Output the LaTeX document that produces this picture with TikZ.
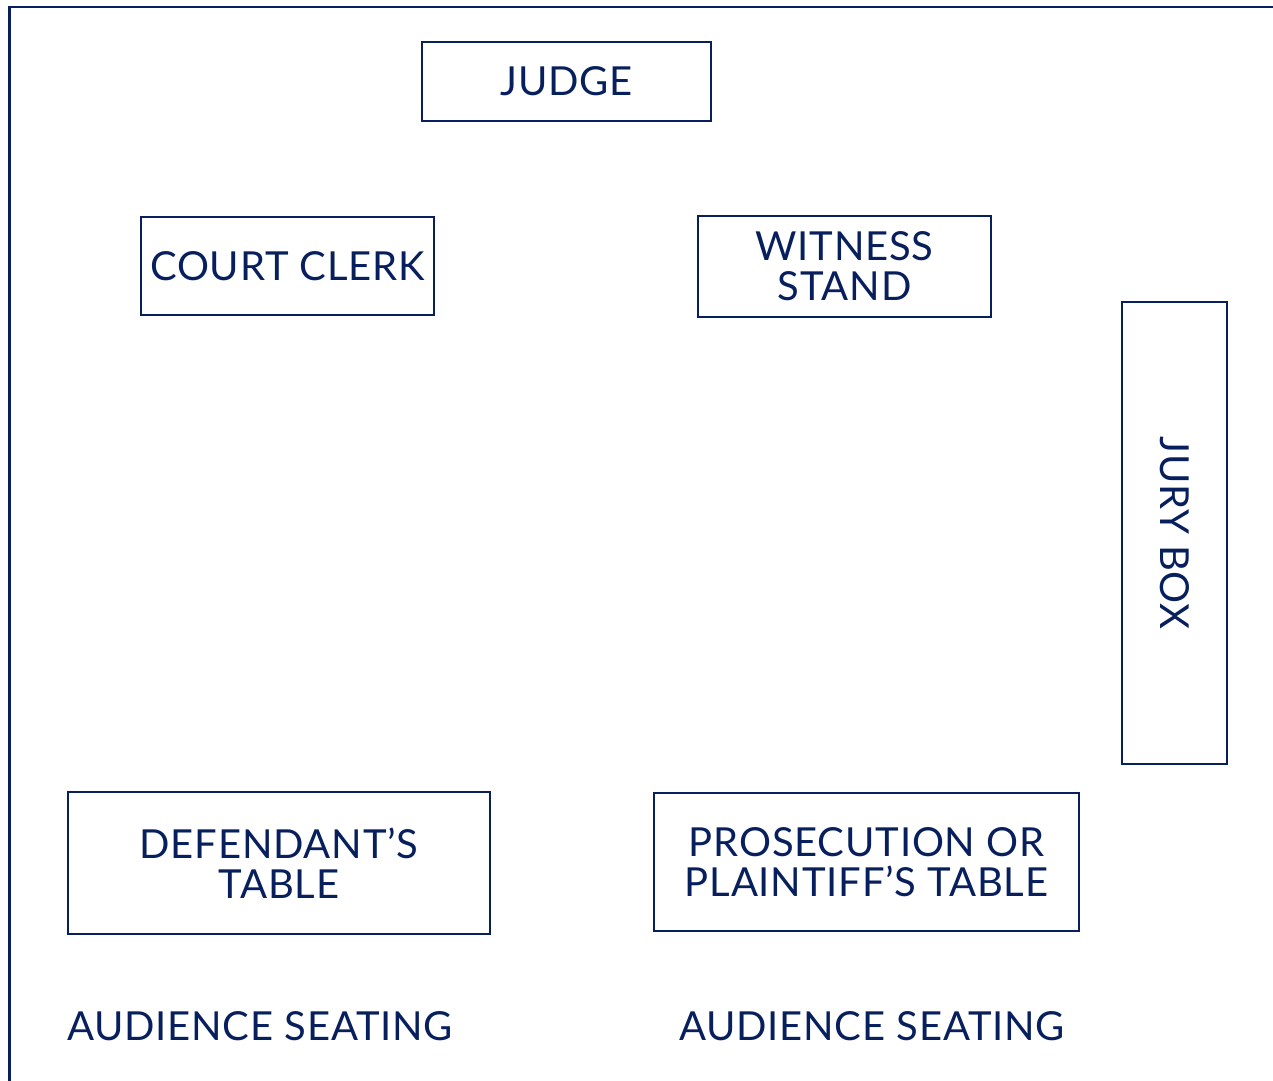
\documentclass[tikz,border=0pt]{standalone}
\usepackage{fontspec}
\setmainfont[LetterSpace=2]{Lato}
\definecolor{navy}{RGB}{8,31,94}
\tikzset{
  box/.style={draw=navy, line width=2.5pt, rectangle, inner sep=0pt, align=center,
    text=navy, font=\fontsize{40}{40}\selectfont},
  lbl/.style={text=navy, inner sep=0pt, font=\fontsize{40}{40}\selectfont}
}
\begin{document}
\begin{tikzpicture}[x=1pt,y=1pt]
\useasboundingbox (0,0) rectangle (1273,-1080);
\coordinate (fbl) at (9.5,-1090);
\coordinate (ftl) at (9.5,-7);
\coordinate (ftr) at (1290,-7);
\draw[navy, line width=2.5pt] (fbl) -- (ftl) -- (ftr);
\node[box, minimum width=289, minimum height=79] (judge) at (566.5,-81.5) {JUDGE};
\node[box, minimum width=293, minimum height=98] (clerk) at (287.5,-266) {COURT CLERK};
\node[box, minimum width=293, minimum height=101] (witness) at (844.5,-266.5) {WITNESS\\STAND};
\node[box, minimum width=105, minimum height=462] (jury) at (1174.5,-533) {};
\node[lbl, rotate=-90] (jurytext) at (jury.center) {JURY BOX};
\node[box, minimum width=422, minimum height=142] (def) at (279,-863) {DEFENDANT’S\\TABLE};
\node[box, minimum width=425, minimum height=138] (pros) at (866.5,-862) {PROSECUTION OR\\PLAINTIFF’S TABLE};
\node[lbl] (aud1) at (260,-1026) {AUDIENCE SEATING};
\node[lbl] (aud2) at (872,-1026) {AUDIENCE SEATING};
\end{tikzpicture}
\end{document}
